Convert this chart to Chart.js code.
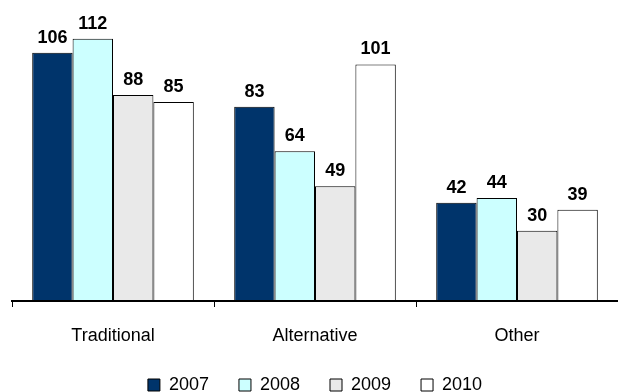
<!DOCTYPE html>
<html>
<head>
<meta charset="utf-8">
<script src="https://cdn.jsdelivr.net/npm/chart.js"></script>
<style>
  html, body { margin: 0; padding: 0; background: #fff; }
  canvas { display: block; }
</style>
</head>
<body>
<canvas id="chart" width="618" height="392"></canvas>
<script>
// categories and yearly series
const categories = ["Traditional", "Alternative", "Other"];
const years = ["2007", "2008", "2009", "2010"];
const values2007 = [106, 83, 42];
const values2008 = [112, 64, 44];
const values2009 = [88, 49, 30];
const values2010 = [85, 101, 39];

const fillColors = ["#00346b", "#ccffff", "#e9e9e9", "#ffffff"];

const FONT = "'Liberation Sans', Arial, sans-serif";

// draws the value above each bar
const valueLabels = {
    id: "valueLabels",
    afterDatasetsDraw(chart) {
        const ctx = chart.ctx;
        ctx.save();
        ctx.font = "bold 18px " + FONT;
        ctx.fillStyle = "#000";
        ctx.textAlign = "center";
        ctx.textBaseline = "alphabetic";
        chart.data.datasets.forEach((ds, i) => {
            chart.getDatasetMeta(i).data.forEach((bar, j) => {
                ctx.fillText(String(ds.data[j]), bar.x, bar.y - 10);
            });
        });
        ctx.restore();
    }
};

const seriesValues = [values2007, values2008, values2009, values2010];

new Chart(document.getElementById("chart").getContext("2d"), {
    type: "bar",
    data: {
        labels: categories,
        datasets: years.map((y, i) => ({
            label: y,
            data: seriesValues[i],
            backgroundColor: fillColors[i],
            borderColor: "#000",
            borderWidth: 1,
            borderSkipped: false,
            categoryPercentage: 0.8,
            barPercentage: 1.0
        }))
    },
    options: {
        responsive: false,
        animation: false,
        layout: { padding: { left: 12, right: 0, top: 20, bottom: -12 } },
        plugins: {
            tooltip: { enabled: false },
            legend: {
                position: "bottom",
                labels: {
                    boxWidth: 12,
                    boxHeight: 12,
                    padding: 30,
                    color: "#000",
                    font: { family: FONT, size: 18 }
                }
            }
        },
        scales: {
            x: {
                offset: true,
                afterFit(scale) { scale.height = 45; },
                grid: {
                    offset: true,
                    drawOnChartArea: false,
                    drawTicks: true,
                    tickLength: 6,
                    color: "#000",
                    lineWidth: 1
                },
                border: { display: true, color: "#000", width: 2, z: 1 },
                ticks: {
                    padding: 18,
                    color: "#000",
                    font: { family: FONT, size: 18 }
                }
            },
            y: {
                display: false,
                min: 0,
                max: 120
            }
        }
    },
    plugins: [valueLabels]
});
</script>
</body>
</html>
